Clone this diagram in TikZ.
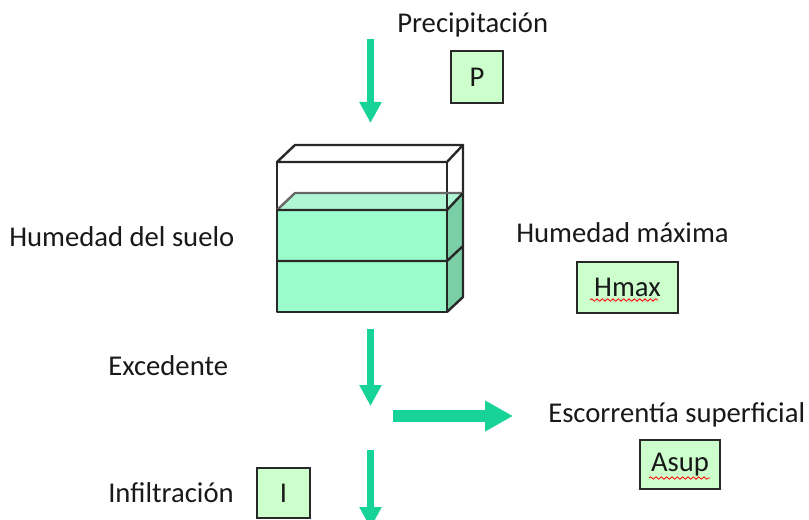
\documentclass[tikz,border=0pt]{standalone}
\usepackage{fontspec}
\setmainfont{Carlito}
\usetikzlibrary{arrows.meta,decorations.pathmorphing}
\definecolor{arrowc}{RGB}{24,211,152}
\definecolor{boxfill}{RGB}{204,255,204}
\definecolor{waterfront}{RGB}{155,252,204}
\definecolor{watertop}{RGB}{175,247,212}
\definecolor{waterside}{RGB}{122,207,166}
\definecolor{edgec}{RGB}{40,40,40}
\definecolor{textc}{RGB}{25,25,25}
\tikzset{
  lbl/.style={anchor=base west, inner sep=0pt, text=textc, font=\fontsize{21.5pt}{24pt}\selectfont},
  varbox/.style={draw=edgec, line width=1.6pt, fill=boxfill, inner sep=0pt, text=textc, font=\fontsize{21.5pt}{24pt}\selectfont},
  vflow/.style={draw=arrowc, line width=5.25pt, -{Triangle[width=15.75pt,length=15.75pt]}},
  hflow/.style={draw=arrowc, line width=9pt, -{Triangle[width=21.75pt,length=21pt]}},
  cubeedge/.style={draw=edgec, line width=1.8pt, line join=round},
  squiggle/.style={draw=red, line width=0.6pt, decorate, decoration={snake, segment length=4pt, amplitude=0.9pt}}
}
\begin{document}
\begin{tikzpicture}[x=0.75pt,y=-0.75pt]
\useasboundingbox (0,0) rectangle (809,520);
\fill[white] (0,0) rectangle (809,520);
\clip (0,0) rectangle (809,520);

% labels
\node[lbl] (lprec) at (397,33) {Precipitación};
\node[lbl] (lhum) at (9,246) {Humedad del suelo};
\node[lbl] (lhmax) at (516,243) {Humedad máxima};
\node[lbl] (lexc) at (108,375) {Excedente};
\node[lbl] (lesc) at (548,422) {Escorrentía superficial};
\node[lbl] (linf) at (108,502) {Infiltración};

% variable boxes
\node[varbox, minimum width=39pt, minimum height=39pt] (P) at (477,77) {P};
\node[varbox, minimum width=75.75pt, minimum height=38.25pt] (Hmax) at (627.5,287.5) {Hmax};
\node[varbox, minimum width=60pt, minimum height=36.75pt] (Asup) at (680,464.5) {Asup};
\node[varbox, minimum width=39.75pt, minimum height=37.5pt] (I) at (283.5,493) {I};

% spell-check underlines
\coordinate (sq1a) at (590,300); \coordinate (sq1b) at (658,300);
\coordinate (sq2a) at (649,478); \coordinate (sq2b) at (710,478);
\draw[squiggle] (sq1a) -- (sq1b);
\draw[squiggle] (sq2a) -- (sq2b);

% soil tank
\fill[watertop] (277,210) -- (295,193) -- (463,193) -- (447,210) -- cycle;
\fill[waterfront] (277,210) rectangle (447,312);
\fill[waterside] (447,210) -- (463,193) -- (463,297) -- (447,312) -- cycle;
\draw[cubeedge] (277,162) -- (295,145) -- (463,145) -- (447,162) -- cycle;
\draw[cubeedge] (463,145) -- (463,297) -- (447,312);
\draw[cubeedge] (277,162) rectangle (447,312);
\draw[cubeedge, draw=edgec!70] (277,210) -- (295,193) -- (463,193);
\draw[cubeedge] (277,210) -- (447,210) -- (463,193);
\draw[cubeedge] (277,261) -- (447,261) -- (463,246);

% flow arrows
\coordinate (a1s) at (370.5,39); \coordinate (a1e) at (370.5,123);
\coordinate (a2s) at (370.5,329); \coordinate (a2e) at (370.5,406);
\coordinate (a3s) at (393,416); \coordinate (a3e) at (513,416);
\coordinate (a4s) at (370.5,450); \coordinate (a4e) at (370.5,528);
\draw[vflow] (a1s) -- (a1e);
\draw[vflow] (a2s) -- (a2e);
\draw[hflow] (a3s) -- (a3e);
\draw[vflow] (a4s) -- (a4e);
\end{tikzpicture}
\end{document}
